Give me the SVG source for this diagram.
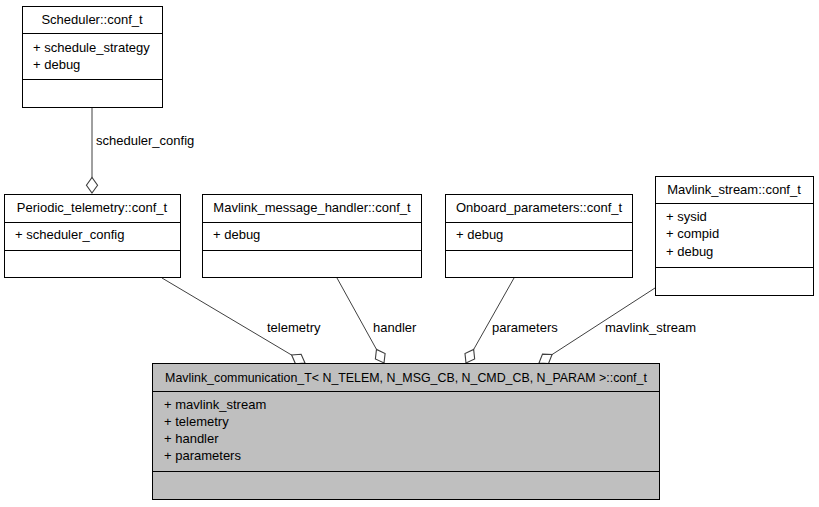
<svg xmlns="http://www.w3.org/2000/svg" width="819" height="507" viewBox="0 0 819 507">
<defs>
<style>
text{font-family:"Liberation Sans",Arial,sans-serif;font-size:13px;fill:#000}
.c{text-anchor:middle}
.h{font-size:12.4px}
.box{fill:#fff;stroke:#000;stroke-width:1}
.main{fill:#bfbfbf;stroke:#000;stroke-width:1}
.div{stroke:#000;stroke-width:1}
.e{stroke:#404040;stroke-width:1;fill:none;marker-end:url(#dia)}
</style>
<marker id="dia" markerUnits="userSpaceOnUse" markerWidth="20" markerHeight="20" viewBox="-16 -8 18 16" refX="0" refY="0" orient="auto">
<path d="M0,0 L-7,-5 L-14,0 L-7,5 Z" fill="#fff" stroke="#404040" stroke-width="1"/>
</marker>
</defs>
<rect width="819" height="507" fill="#fff"/>
<g id="edges">
<path class="e" d="M92,107 L92,193"/>
<text x="96" y="145">scheduler_config</text>
<path class="e" d="M162,278 L305,363"/>
<text x="267" y="332">telemetry</text>
<path class="e" d="M337,278 L384,363"/>
<text x="373" y="332">handler</text>
<path class="e" d="M514,278 L466,363"/>
<text x="492" y="332">parameters</text>
<path class="e" d="M655,288 L539,363"/>
<text x="605" y="332">mavlink_stream</text>
</g>
<g id="scheduler">
<rect class="box" x="22.5" y="6.5" width="140" height="101"/>
<line class="div" x1="22.5" y1="33.5" x2="162.5" y2="33.5"/>
<line class="div" x1="22.5" y1="79.5" x2="162.5" y2="79.5"/>
<text class="c" x="92" y="24">Scheduler::conf_t</text>
<text x="33" y="52">+ schedule_strategy</text>
<text x="33" y="69">+ debug</text>
</g>
<g id="periodic">
<rect class="box" x="4.5" y="194.5" width="176" height="83"/>
<line class="div" x1="4.5" y1="222.5" x2="180.5" y2="222.5"/>
<line class="div" x1="4.5" y1="250.5" x2="180.5" y2="250.5"/>
<text class="c" x="92" y="212">Periodic_telemetry::conf_t</text>
<text x="15" y="239">+ scheduler_config</text>
</g>
<g id="handler">
<rect class="box" x="202.5" y="194.5" width="219" height="83"/>
<line class="div" x1="202.5" y1="222.5" x2="421.5" y2="222.5"/>
<line class="div" x1="202.5" y1="250.5" x2="421.5" y2="250.5"/>
<text class="c" x="312" y="212">Mavlink_message_handler::conf_t</text>
<text x="213" y="239">+ debug</text>
</g>
<g id="onboard">
<rect class="box" x="445.5" y="194.5" width="187" height="83"/>
<line class="div" x1="445.5" y1="222.5" x2="632.5" y2="222.5"/>
<line class="div" x1="445.5" y1="250.5" x2="632.5" y2="250.5"/>
<text class="c" x="539" y="212">Onboard_parameters::conf_t</text>
<text x="456" y="239">+ debug</text>
</g>
<g id="stream">
<rect class="box" x="655.5" y="176.5" width="158" height="119"/>
<line class="div" x1="655.5" y1="203.5" x2="813.5" y2="203.5"/>
<line class="div" x1="655.5" y1="267.5" x2="813.5" y2="267.5"/>
<text class="c" x="734" y="194">Mavlink_stream::conf_t</text>
<text x="666" y="221">+ sysid</text>
<text x="666" y="238">+ compid</text>
<text x="666" y="256">+ debug</text>
</g>
<g id="main">
<rect class="main" x="152.5" y="363.5" width="507" height="136"/>
<line class="div" x1="152.5" y1="391.5" x2="659.5" y2="391.5"/>
<line class="div" x1="152.5" y1="471.5" x2="659.5" y2="471.5"/>
<text class="c h" x="406" y="382">Mavlink_communication_T&lt; N_TELEM, N_MSG_CB, N_CMD_CB, N_PARAM &gt;::conf_t</text>
<text x="164" y="409">+ mavlink_stream</text>
<text x="164" y="426">+ telemetry</text>
<text x="164" y="443">+ handler</text>
<text x="164" y="460">+ parameters</text>
</g>
</svg>
